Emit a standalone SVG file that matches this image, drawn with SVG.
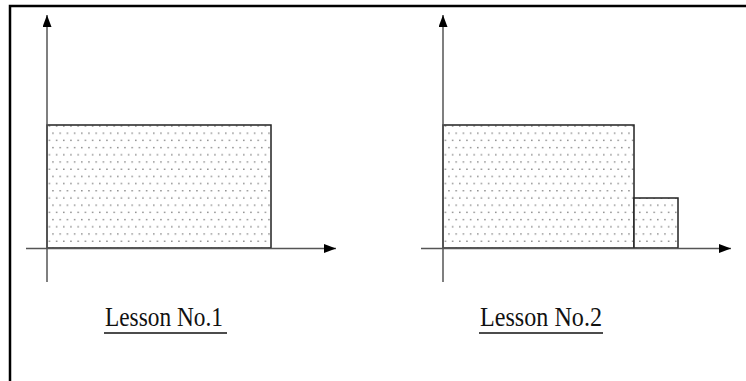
<svg xmlns="http://www.w3.org/2000/svg" width="746" height="381" viewBox="0 0 746 381">
<style>
.axis{stroke:#555;stroke-width:1.5;fill:none}
.box{fill:url(#dots);stroke:#222;stroke-width:1.5}
.lbl{font-family:"Liberation Serif","Times New Roman",serif;font-size:27px;fill:#111}
.ul{stroke:#111;stroke-width:1.5}
</style>
<defs>
<pattern id="dots" x="0" y="0" width="7.2" height="14.4" patternUnits="userSpaceOnUse">
<rect width="7.2" height="14.4" fill="#fff"/>
<rect x="2" y="3" width="1.2" height="1.2" fill="#555"/>
<rect x="5.6" y="10.2" width="1.2" height="1.2" fill="#555"/>
</pattern>
<marker id="ah" viewBox="0 0 12 9" refX="12" refY="4.5" markerWidth="12" markerHeight="9" markerUnits="userSpaceOnUse" orient="auto">
<path d="M0,0 L12,4.5 L0,9 Z" fill="#000"/>
</marker>
</defs>
<rect width="746" height="381" fill="#fff"/>
<path d="M10,381 V6 H746" fill="none" stroke="#000" stroke-width="2.5"/>
<g id="chart1">
<rect class="box" x="47" y="125" width="224" height="123"/>
</g>
<g id="chart2">
<rect class="box" x="443" y="125" width="191" height="123"/>
<rect class="box" x="634" y="198" width="44" height="50"/>
</g>
<g id="connectors">
<line class="axis" x1="47" y1="282" x2="47" y2="15" marker-end="url(#ah)"/>
<line class="axis" x1="26" y1="248.5" x2="336" y2="248.5" marker-end="url(#ah)"/>
<line class="axis" x1="443" y1="282" x2="443" y2="15" marker-end="url(#ah)"/>
<line class="axis" x1="421" y1="248.5" x2="731" y2="248.5" marker-end="url(#ah)"/>
</g>
<g id="label1">
<text class="lbl" x="105" y="326" textLength="118" lengthAdjust="spacingAndGlyphs">Lesson No.1</text>
<line class="ul" x1="104" y1="333" x2="227" y2="333"/>
</g>
<g id="label2">
<text class="lbl" x="480" y="326" textLength="122" lengthAdjust="spacingAndGlyphs">Lesson No.2</text>
<line class="ul" x1="479" y1="333" x2="603" y2="333"/>
</g>
</svg>
